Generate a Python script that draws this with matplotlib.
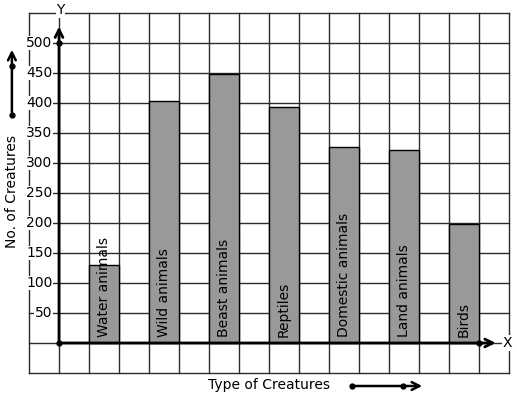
import matplotlib
matplotlib.use('Agg')
import matplotlib.pyplot as plt
import numpy as np

# Data
categories = ['Water animals', 'Wild animals', 'Beast animals', 'Reptiles',
              'Domestic animals', 'Land animals', 'Birds']
counts = [130, 403, 448, 393, 327, 322, 198]
y_ticks = [50, 100, 150, 200, 250, 300, 350, 400, 450, 500]

# one grid cell = 30 px, x axis at px 343, y axis at px 59
fig = plt.figure(figsize=(5.17, 3.99), dpi=100)
ax = fig.add_axes([0, 0, 1, 1])
ax.set_xlim(-59 / 30, 458 / 30)
ax.set_ylim(-56 / 30 * 50, 343 / 30 * 50)
ax.axis('off')

# grid
grid_kw = dict(color='#2b2b2b', linewidth=1.0, zorder=1)
for gx in range(-1, 16):
    ax.plot([gx, gx], [-50, 550], **grid_kw)
for gy in range(-50, 551, 50):
    ax.plot([-1, 15], [gy, gy], **grid_kw)

# bars at every second cell
x_pos = np.arange(len(categories)) * 2 + 1.5
ax.bar(x_pos, counts, width=1.0, color='#999999', edgecolor='black',
       linewidth=1.0, zorder=2)
for x, name in zip(x_pos, categories):
    ax.text(x, 10, name, rotation=90, ha='center', va='bottom',
            fontsize=10, zorder=4)

# axes with arrows
ax.annotate('', xy=(0, 532), xytext=(0, 0),
            arrowprops=dict(arrowstyle='->', lw=2, color='black',
                            mutation_scale=14), zorder=5)
ax.annotate('', xy=(14.65, 0), xytext=(0, 0),
            arrowprops=dict(arrowstyle='->', lw=2, color='black',
                            mutation_scale=14), zorder=5)
ax.plot([0, 0, 14], [0, 500, 0], 'o', color='black', markersize=3.5, zorder=6)
ax.text(0.05, 555, 'Y', ha='center', va='center', fontsize=10,
        bbox=dict(facecolor='white', edgecolor='none', pad=0.5), zorder=6)
ax.text(14.95, 0, 'X', ha='center', va='center', fontsize=10,
        bbox=dict(facecolor='white', edgecolor='none', pad=0.5), zorder=6)

# y tick labels
for t in y_ticks:
    ax.text(-0.22, t, str(t), ha='right', va='center', fontsize=10,
            bbox=dict(facecolor='white', edgecolor='none', pad=0.3), zorder=6)

# axis titles with decorative arrows
ax.text(-1.57, 192 / 30 * 50 * -1 + 343 / 30 * 50, 'No. of Creatures',
        rotation=90, ha='center', va='center', fontsize=10)
ay0 = (343 - 115) / 30 * 50
ay1 = (343 - 47) / 30 * 50
ax.annotate('', xy=(-1.57, ay1), xytext=(-1.57, ay0),
            arrowprops=dict(arrowstyle='->', lw=1.8, color='black',
                            mutation_scale=14), annotation_clip=False)
ax.plot([-1.57, -1.57], [ay0, (343 - 66) / 30 * 50], 'o', color='black',
        markersize=3.5)

ax.text((269 - 59) / 30, -(385 - 343) / 30 * 50, 'Type of Creatures',
        ha='center', va='center', fontsize=10)
ax_y = -(386 - 343) / 30 * 50
ax.annotate('', xy=((425 - 59) / 30, ax_y), xytext=((352 - 59) / 30, ax_y),
            arrowprops=dict(arrowstyle='->', lw=1.8, color='black',
                            mutation_scale=14), annotation_clip=False)
ax.plot([(352 - 59) / 30, (403 - 59) / 30], [ax_y, ax_y], 'o', color='black',
        markersize=3.5)

fig.savefig('out.png', dpi=100)
